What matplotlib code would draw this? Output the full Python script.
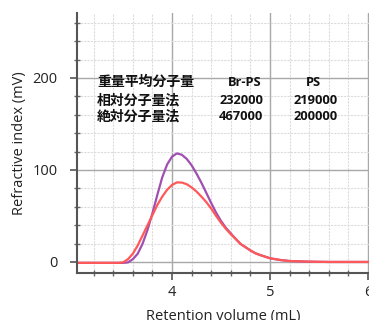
import matplotlib
matplotlib.use("Agg")
import matplotlib.pyplot as plt
from matplotlib.ticker import MultipleLocator

plt.rcParams['font.family'] = ['Open Sans', 'Noto Sans CJK JP', 'DejaVu Sans']

# Data
x_brps = [3.03, 3.3, 3.5, 3.55, 3.6, 3.65, 3.7, 3.75, 3.8, 3.85, 3.9, 3.95,
          4.0, 4.05, 4.1, 4.15, 4.2, 4.25, 4.3, 4.35, 4.4, 4.45, 4.5, 4.55,
          4.6, 4.65, 4.7, 4.8, 4.85, 4.9, 5.0, 5.1, 5.2, 5.4, 5.6, 6.02]
y_brps = [-1, -1, -1, -0.5, 3, 9, 20, 35, 53, 73, 92, 106,
          114.5, 118, 116.5, 112, 105, 96, 86, 75, 64, 53.5, 44.5, 37,
          31, 25, 19.5, 12.5, 9.5, 7.5, 4, 2.2, 1, 0.3, 0, 0]
x_ps = [3.03, 3.3, 3.45, 3.5, 3.55, 3.6, 3.65, 3.7, 3.75, 3.8, 3.85, 3.9,
        3.95, 4.0, 4.05, 4.1, 4.15, 4.2, 4.25, 4.3, 4.35, 4.4, 4.45, 4.5,
        4.55, 4.6, 4.65, 4.7, 4.8, 4.85, 4.9, 5.0, 5.1, 5.2, 5.4, 5.6, 6.02]
y_ps = [-1, -1, -1, -0.5, 3, 9, 18, 29, 40, 51, 62, 71,
        78.5, 83.7, 86.5, 86.3, 84.5, 81, 76.5, 71, 65, 58, 50, 42.5,
        36, 30, 25, 19.5, 12.5, 9.5, 7.5, 4, 2.2, 1, 0.3, 0, 0]

table_header = ["重量平均分子量", "Br-PS", "PS"]
table_rows = [["相対分子量法", "232000", "219000"],
              ["絶対分子量法", "467000", "200000"]]

fig = plt.figure(figsize=(3.69, 3.2), dpi=100)
ax = fig.add_axes([77/369, 47/320, 292/369, 260/320])
ax.set_xlim(3.03, 6.01)
ax.set_ylim(-12, 270.6)

ax.xaxis.set_major_locator(MultipleLocator(1))
ax.xaxis.set_minor_locator(MultipleLocator(0.2))
ax.yaxis.set_major_locator(MultipleLocator(100))
ax.yaxis.set_minor_locator(MultipleLocator(20))

ax.grid(which='minor', color='#dcdcdc', linewidth=0.8, linestyle=(0, (2, 1)))
ax.grid(which='major', color='#a8a8a8', linewidth=1.0)
ax.set_axisbelow(True)

ax.plot(x_brps, y_brps, color='#a04fb0', linewidth=1.6,
        solid_joinstyle='round', solid_capstyle='round')
ax.plot(x_ps, y_ps, color='#ff5858', linewidth=1.6,
        solid_joinstyle='round', solid_capstyle='round')

for s in ['top', 'right']:
    ax.spines[s].set_visible(False)
for s in ['left', 'bottom']:
    ax.spines[s].set_color('#555555')
    ax.spines[s].set_linewidth(1.5)

ax.tick_params(which='major', direction='out', length=5, width=1.2, color='#555555',
               labelsize=10.5, labelcolor='#222222')
ax.tick_params(which='minor', direction='inout', length=4, width=1.0, color='#666666')
ax.tick_params(axis='x', pad=4)
ax.tick_params(axis='y', pad=9)

ax.set_xlabel("Retention volume (mL)", fontsize=10.5, color='#222222', labelpad=6)
ax.set_ylabel("Refractive index (mV)", fontsize=10.5, color='#222222', labelpad=4)

# Table text
fig.text(97/369, 1 - 82/320, table_header[0], fontsize=10, fontweight='bold',
         family=['Noto Sans CJK JP'], ha='left', va='center', color='#111111')
fig.text(244.5/369, 1 - 83/320, table_header[1], fontsize=9.3, fontweight='bold',
         family=['Open Sans'], ha='center', va='center', color='#111111')
fig.text(313/369, 1 - 83/320, table_header[2], fontsize=9.3, fontweight='bold',
         family=['Open Sans'], ha='center', va='center', color='#111111')
for i, row in enumerate(table_rows):
    yy = 1 - (100.5 + 16.5 * i) / 320
    fig.text(97/369, yy, row[0], fontsize=10, fontweight='bold',
             family=['Noto Sans CJK JP'], ha='left', va='center', color='#111111')
    fig.text(241/369, yy, row[1], fontsize=9.3, fontweight='bold',
             family=['Open Sans'], ha='center', va='center', color='#111111')
    fig.text(315.5/369, yy, row[2], fontsize=9.3, fontweight='bold',
             family=['Open Sans'], ha='center', va='center', color='#111111')

fig.savefig("out.png", dpi=100)
